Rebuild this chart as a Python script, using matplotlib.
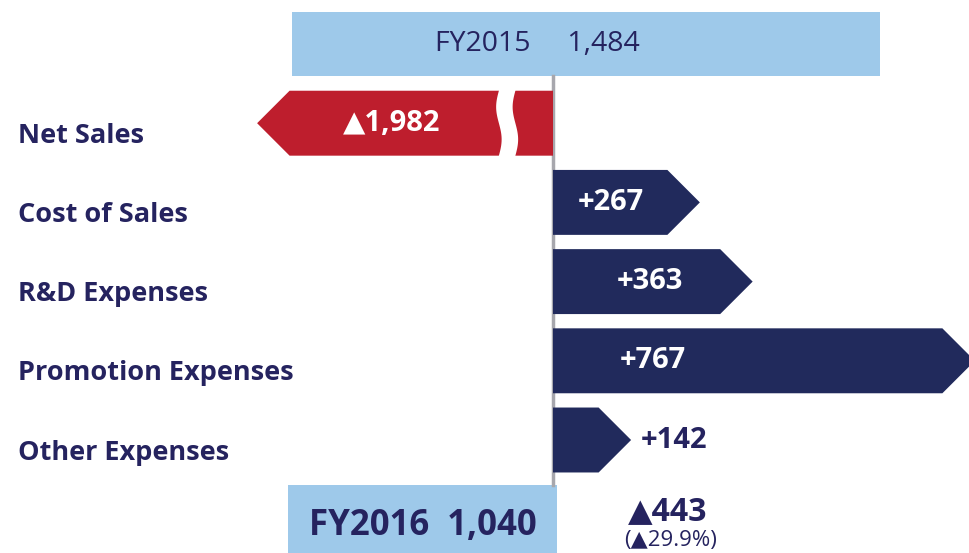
import matplotlib
matplotlib.use("Agg")
import matplotlib.pyplot as plt
import numpy as np
from matplotlib.patches import Polygon, Rectangle
from matplotlib.transforms import blended_transform_factory

# ---- data ----
start_label = "FY2015"
start_value = 1484
end_label = "FY2016"
end_value = 1040
categories = ["Net Sales", "Cost of Sales", "R&D Expenses", "Promotion Expenses", "Other Expenses"]
changes = [-1982, 267, 363, 767, 142]
change_labels = ["▲1,982", "+267", "+363", "+767", "+142"]
total_change_label = "▲443"
total_change_pct = "(▲29.9%)"

# ---- style / layout ----
W, H = 969, 553
NAVY = "#212a5c"
TEXT = "#25235f"
RED = "#be1e2d"
LIGHT = "#9ec9ea"
GRAY = "#a7a7ad"
FONT = ["Open Sans", "DejaVu Sans"]
ZERO_PX = 553
PX_PER_UNIT = 0.55
ROW0_PX = 44
ROW_STEP_PX = 79.2
BAR_H = 0.82
NET_DISPLAY = -538       # broken bar: drawn length
BREAK_FRAC = 0.155
LABEL_X_PX = [392, 611, 650, 653, 674]

fig = plt.figure(figsize=(W / 100, H / 100), dpi=100)
ax = fig.add_axes([0, 0, 1, 1])
x0 = -ZERO_PX / PX_PER_UNIT
x1 = (W - ZERO_PX) / PX_PER_UNIT
ax.set_xlim(x0, x1)
ax.set_ylim((H - ROW0_PX) / ROW_STEP_PX, -ROW0_PX / ROW_STEP_PX)
ax.axis("off")

def px(xp):
    return (xp - ZERO_PX) / PX_PER_UNIT

tip = (BAR_H / 2) * ROW_STEP_PX / PX_PER_UNIT  # 45-degree arrow tip in data units

def arrow(y, length, color):
    h = BAR_H / 2
    s = np.sign(length)
    t = min(tip, abs(length)) * s
    pts = [(0, y - h), (length - t, y - h), (length, y), (length - t, y + h), (0, y + h)]
    ax.add_patch(Polygon(pts, closed=True, facecolor=color, edgecolor="none", zorder=2))

# start box
ax.add_patch(Rectangle((px(292), -0.41), (880 - 292) / PX_PER_UNIT, 0.82,
                       facecolor=LIGHT, edgecolor="none", zorder=1))
ax.text(px(537), 0.0, f"{start_label}     {start_value:,}", color=TEXT,
        fontsize=20.5, family=FONT, ha="center", va="center", zorder=3)

# vertical baseline
ax.plot([0, 0], [0.41, len(categories) + 1 - 0.43], color=GRAY, lw=2.5, zorder=1.5)

label_tr = blended_transform_factory(fig.transFigure, ax.transData)
for i, (cat, val, lab, lx) in enumerate(zip(categories, changes, change_labels, LABEL_X_PX)):
    y = i + 1
    ax.text(18 / W, y + 0.16, cat, transform=label_tr, color=TEXT, fontsize=19.5,
            fontweight="bold", family=FONT, ha="left", va="center")
    if val < 0:
        arrow(y, NET_DISPLAY, RED)
        # break marks
        bx = NET_DISPLAY * BREAK_FRAC
        yy = np.linspace(y - BAR_H / 2 - 0.02, y + BAR_H / 2 + 0.02, 40)
        wave = 5 * np.sin((yy - y) / (BAR_H / 2) * np.pi)
        left = bx - 15 + wave
        right = bx + 15 + wave
        pts = list(zip(left, yy)) + list(zip(right[::-1], yy[::-1]))
        ax.add_patch(Polygon(pts, closed=True, facecolor="white", edgecolor="none", zorder=2.5))
        ax.text(px(lx), y, lab, color="white", fontsize=21,
                fontweight="bold", family=FONT, ha="center", va="center", zorder=3)
    else:
        arrow(y, val, NAVY)
        inside = val > 200
        ax.text(px(lx), y, lab, color="white" if inside else TEXT, fontsize=21,
                fontweight="bold", family=FONT, ha="center", va="center", zorder=3)

# end box
yb = len(categories) + 1
ax.add_patch(Rectangle((px(288), yb - 0.43), (557 - 288) / PX_PER_UNIT, 1.0,
                       facecolor=LIGHT, edgecolor="none", zorder=1))
ax.text(px(423), yb + 0.08, f"{end_label}  {end_value:,}", color=TEXT,
        fontsize=25, fontweight="bold", family=FONT, ha="center", va="center", zorder=3)
ax.text(px(668), yb - 0.1, total_change_label, color=TEXT, fontsize=23,
        fontweight="bold", family=FONT, ha="center", va="center", zorder=3)
ax.text(px(671), yb + 0.27, total_change_pct, color=TEXT, fontsize=16,
        family=FONT, ha="center", va="center", zorder=3)

fig.savefig("out.png", dpi=100)
